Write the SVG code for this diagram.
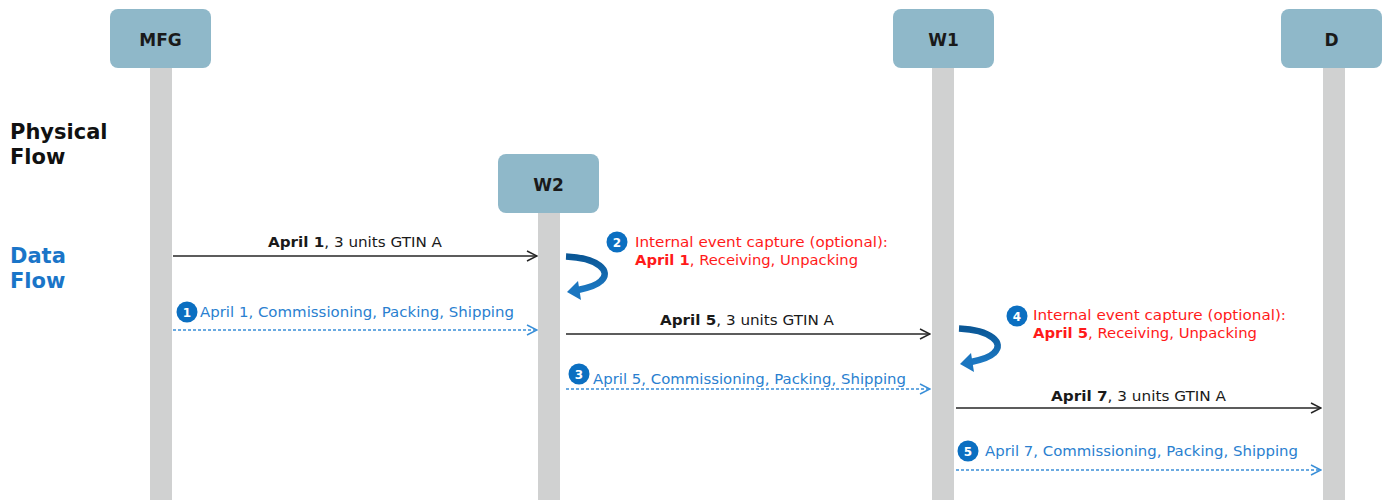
<svg xmlns="http://www.w3.org/2000/svg" width="1387" height="500" viewBox="0 0 1387 500">
<style>
text{font-family:"DejaVu Sans","Liberation Sans",sans-serif}
.box{fill:#8fb8c9}
.life{fill:#d0d1d1}
.nl{font-size:17px;font-weight:bold;fill:#1a1a1a;text-anchor:middle}
.side{font-size:21px;font-weight:bold}
.phys{stroke:#262626;stroke-width:1.5;fill:none}
.data{stroke:#3a8fd8;stroke-width:1.5;fill:none;stroke-dasharray:3 2}
.pl{font-size:14.5px;fill:#1a1a1a}
.dl{font-size:14.5px;fill:#2a7fd0}
.rl{font-size:14.5px;fill:#ff1a1a}
.num{fill:#0b6fc1}
.nt{font-size:12px;fill:#fff;text-anchor:middle;font-weight:bold}
.curl{fill:none;stroke:url(#cg);stroke-width:6.5}
.curlh{fill:#1b76c0}
</style>
<defs>
<linearGradient id="cg" x1="0" y1="0" x2="0" y2="1">
<stop offset="0" stop-color="#0a5796"/>
<stop offset="1" stop-color="#1c78c2"/>
</linearGradient>
<marker id="ab" viewBox="0 0 12 12" refX="11" refY="6" markerWidth="12" markerHeight="12" markerUnits="userSpaceOnUse" orient="auto">
<path d="M1,1 L11,6 L1,11" fill="none" stroke="#262626" stroke-width="1.5"/>
</marker>
<marker id="ad" viewBox="0 0 12 12" refX="11" refY="6" markerWidth="12" markerHeight="12" markerUnits="userSpaceOnUse" orient="auto">
<path d="M1,1 L11,6 L1,11" fill="none" stroke="#3a8fd8" stroke-width="1.5"/>
</marker>
<g id="curlshape">
<path class="curl" d="M566,256.5 C598,258 612,271 601,281 C596,286 588,288 578,290"/>
<polygon class="curlh" points="567,292 578,281 581,300"/>
</g>
</defs>
<g id="labels">
<text class="side" x="10" y="139" fill="#111">Physical</text>
<text class="side" x="10" y="164" fill="#111">Flow</text>
<text class="side" x="10" y="263" fill="#1a75c8">Data</text>
<text class="side" x="10" y="288" fill="#1a75c8">Flow</text>
</g>
<g id="node-MFG">
<rect class="life" x="150" y="66" width="22" height="434"/>
<rect class="box" x="110" y="9" width="101" height="59" rx="8"/>
<text class="nl" x="160.5" y="46">MFG</text>
</g>
<g id="node-W2">
<rect class="life" x="538" y="211" width="22" height="289"/>
<rect class="box" x="498" y="154" width="101" height="59" rx="8"/>
<text class="nl" x="548.5" y="191">W2</text>
</g>
<g id="node-W1">
<rect class="life" x="932" y="66" width="22" height="434"/>
<rect class="box" x="893" y="9" width="101" height="59" rx="8"/>
<text class="nl" x="943.5" y="46">W1</text>
</g>
<g id="node-D">
<rect class="life" x="1323" y="66" width="22" height="434"/>
<rect class="box" x="1281" y="9" width="101" height="59" rx="8"/>
<text class="nl" x="1331.5" y="46">D</text>
</g>
<g id="connectors">
<line class="phys" x1="173" y1="256" x2="537" y2="256" marker-end="url(#ab)"/>
<line class="data" x1="173" y1="330" x2="537" y2="330" marker-end="url(#ad)"/>
<line class="phys" x1="566" y1="334" x2="930" y2="334" marker-end="url(#ab)"/>
<line class="data" x1="566" y1="389" x2="930" y2="389" marker-end="url(#ad)"/>
<line class="phys" x1="956" y1="408" x2="1321" y2="408" marker-end="url(#ab)"/>
<line class="data" x1="956" y1="470" x2="1321" y2="470" marker-end="url(#ad)"/>
<use href="#curlshape"/>
<use href="#curlshape" transform="translate(393,72)"/>
</g>
<g id="texts">
<text class="pl" x="268" y="247" textLength="174" lengthAdjust="spacingAndGlyphs"><tspan font-weight="bold">April 1</tspan>, 3 units GTIN A</text>
<text class="pl" x="660" y="325" textLength="174" lengthAdjust="spacingAndGlyphs"><tspan font-weight="bold">April 5</tspan>, 3 units GTIN A</text>
<text class="pl" x="1051" y="401" textLength="175" lengthAdjust="spacingAndGlyphs"><tspan font-weight="bold">April 7</tspan>, 3 units GTIN A</text>
<circle class="num" cx="187" cy="312" r="10.5"/><text class="nt" x="187" y="316.5">1</text>
<text class="dl" x="200" y="317" textLength="314" lengthAdjust="spacingAndGlyphs">April 1, Commissioning, Packing, Shipping</text>
<circle class="num" cx="617" cy="242" r="10.5"/><text class="nt" x="617" y="246.5">2</text>
<text class="rl" x="635" y="247" textLength="253" lengthAdjust="spacingAndGlyphs">Internal event capture (optional):</text>
<text class="rl" x="635" y="265" textLength="223" lengthAdjust="spacingAndGlyphs"><tspan font-weight="bold">April 1</tspan>, Receiving, Unpacking</text>
<circle class="num" cx="579" cy="374" r="10.5"/><text class="nt" x="579" y="378.5">3</text>
<text class="dl" x="593" y="384" textLength="313" lengthAdjust="spacingAndGlyphs">April 5, Commissioning, Packing, Shipping</text>
<circle class="num" cx="1017" cy="316" r="10.5"/><text class="nt" x="1017" y="320.5">4</text>
<text class="rl" x="1033" y="320" textLength="253" lengthAdjust="spacingAndGlyphs">Internal event capture (optional):</text>
<text class="rl" x="1033" y="338" textLength="224" lengthAdjust="spacingAndGlyphs"><tspan font-weight="bold">April 5</tspan>, Receiving, Unpacking</text>
<circle class="num" cx="968" cy="451" r="10.5"/><text class="nt" x="968" y="455.5">5</text>
<text class="dl" x="985" y="456" textLength="313" lengthAdjust="spacingAndGlyphs">April 7, Commissioning, Packing, Shipping</text>
</g>
</svg>
